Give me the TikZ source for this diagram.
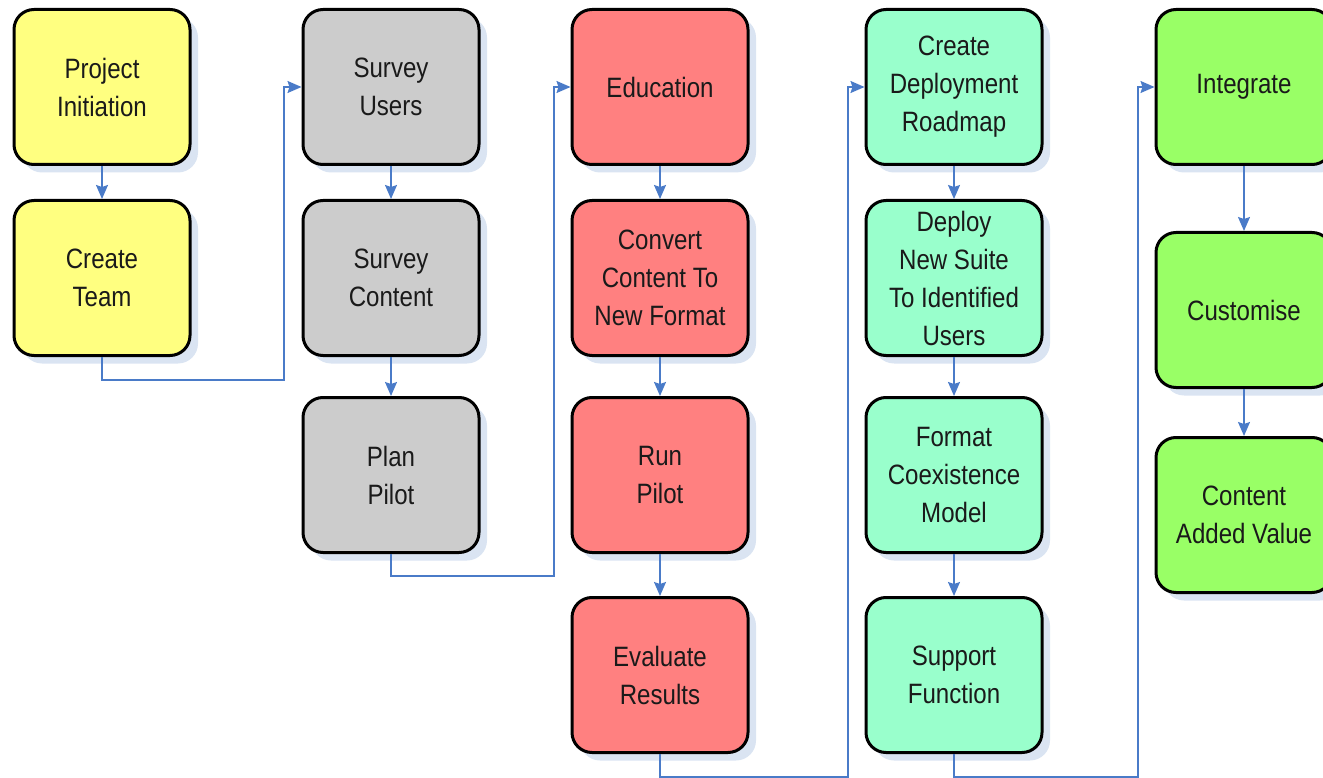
\documentclass[tikz,border=0pt]{standalone}
\usepackage{fontspec}
\setmainfont{Liberation Sans}[FakeStretch=0.86]
\usetikzlibrary{shadows,arrows.meta}
\definecolor{cyellow}{HTML}{FFFF80}
\definecolor{cgray}{HTML}{CCCCCC}
\definecolor{cred}{HTML}{FF8080}
\definecolor{cmint}{HTML}{99FFCC}
\definecolor{cgreen}{HTML}{99FF66}
\definecolor{cshadow}{HTML}{DAE4F2}
\definecolor{carrow}{HTML}{4A7BC8}
\definecolor{ctext}{HTML}{1A1A1A}
\tikzset{
  stepbox/.style={draw=black, line width=3pt, rounded corners=20pt,
    minimum width=176pt, minimum height=155pt, align=center, inner sep=0pt,
    text=ctext, font=\fontsize{28}{38}\selectfont,
    drop shadow={shadow xshift=8pt, shadow yshift=-8pt, fill=cshadow, opacity=1}},
  arr/.style={draw=carrow, line width=1.6pt, -{Stealth[length=14pt,width=12pt,inset=2pt]}},
}
\begin{document}
\begin{tikzpicture}[x=1pt,y=-1pt]
\useasboundingbox (0,0) rectangle (1323,778);
% column 1
\node[stepbox, fill=cyellow] (pi) at (102,87) {Project\\Initiation};
\node[stepbox, fill=cyellow] (ct) at (102,278) {Create\\Team};
% column 2
\node[stepbox, fill=cgray] (su) at (391,87) {Survey\\Users};
\node[stepbox, fill=cgray] (sc) at (391,278) {Survey\\Content};
\node[stepbox, fill=cgray] (pp) at (391,475) {Plan\\Pilot};
% column 3
\node[stepbox, fill=cred] (ed) at (660,87) {Education};
\node[stepbox, fill=cred] (cc) at (660,278) {Convert\\Content To\\New Format};
\node[stepbox, fill=cred] (rp) at (660,475) {Run\\Pilot};
\node[stepbox, fill=cred] (er) at (660,675) {Evaluate\\Results};
% column 4
\node[stepbox, fill=cmint] (cd) at (954,87) {Create\\Deployment\\Roadmap};
\node[stepbox, fill=cmint] (dn) at (954,278) {Deploy\\New Suite\\To Identified\\Users};
\node[stepbox, fill=cmint] (fc) at (954,475) {Format\\Coexistence\\Model};
\node[stepbox, fill=cmint] (sf) at (954,675) {Support\\Function};
% column 5
\node[stepbox, fill=cgreen] (ig) at (1244,87) {Integrate};
\node[stepbox, fill=cgreen] (cu) at (1244,310) {Customise};
\node[stepbox, fill=cgreen] (cv) at (1244,515) {Content\\Added Value};
% bend points
\coordinate (b1) at (284,380);
\coordinate (b2) at (554,576);
\coordinate (b3) at (848,777);
\coordinate (b4) at (1138,777);
% connectors
\draw[arr] (pi) -- (ct);
\draw[arr] (su) -- (sc);
\draw[arr] (sc) -- (pp);
\draw[arr] (ed) -- (cc);
\draw[arr] (cc) -- (rp);
\draw[arr] (rp) -- (er);
\draw[arr] (cd) -- (dn);
\draw[arr] (dn) -- (fc);
\draw[arr] (fc) -- (sf);
\draw[arr] (ig) -- (cu);
\draw[arr] (cu) -- (cv);
\draw[arr] (ct.south) |- (b1) |- (su.west);
\draw[arr] (pp.south) |- (b2) |- (ed.west);
\draw[arr] (er.south) |- (b3) |- (cd.west);
\draw[arr] (sf.south) |- (b4) |- (ig.west);
\end{tikzpicture}
\end{document}
